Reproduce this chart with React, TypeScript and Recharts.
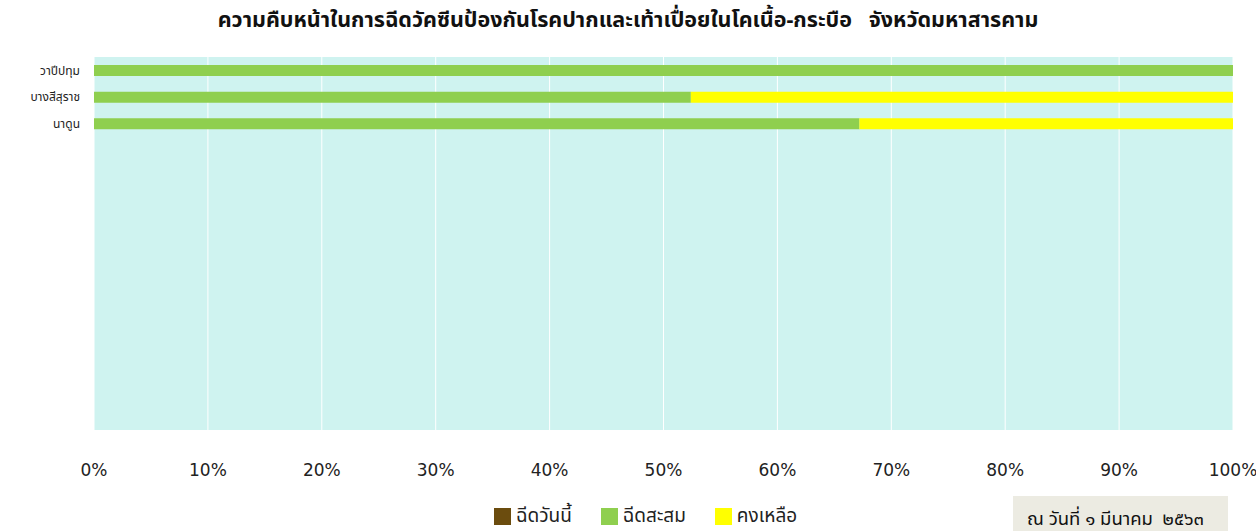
import { BarChart, Bar, XAxis, YAxis, CartesianGrid } from "recharts";

// อำเภอ (13 rows in the sheet, only 3 filled in so far)
const districts = ["วาปีปทุม", "บางสีสุราช", "นาดูน", "", "", "", "", "", "", "", "", "", "", ""];
const todayPct = [0, 0, 0];
const cumulativePct = [100, 52.4, 67.2];
const remainingPct = [0, 47.6, 32.8];
const xTicks = [0, 10, 20, 30, 40, 50, 60, 70, 80, 90, 100];

const data = districts.map((name, i) => ({
  id: `d${i}`,
  name,
  today: todayPct[i] ?? null,
  cumulative: cumulativePct[i] ?? null,
  remaining: remainingPct[i] ?? null,
}));

const COLORS = {
  today: "#6b4c0e",
  cumulative: "#8fcf4f",
  remaining: "#ffff00",
};

const thaiFont = "'Noto Sans', 'Noto Sans Thai', 'DejaVu Sans', sans-serif";

export default function App() {
  return (
    <div
      style={{
        position: "absolute",
        top: 0,
        left: 0,
        width: 1256,
        height: 531,
        background: "#ffffff",
        overflow: "hidden",
        fontFamily: thaiFont,
      }}
    >
      <div
        style={{
          position: "absolute",
          top: 4,
          left: 0,
          width: 1256,
          textAlign: "center",
          fontSize: 21.5,
          fontWeight: "bold",
          color: "#111",
        }}
      >
        ความคืบหน้าในการฉีดวัคซีนป้องกันโรคปากและเท้าเปื่อยในโคเนื้อ-กระบือ&nbsp;&nbsp;&nbsp;จังหวัดมหาสารคาม
      </div>

      <BarChart
        width={1256}
        height={531}
        data={data}
        layout="vertical"
        barSize={11}
        margin={{ top: 57, right: 23, bottom: 71, left: 0 }}
        style={{ position: "absolute", top: 0, left: 0 }}
      >
        <CartesianGrid horizontal={false} stroke="#ffffff" fill="#cff3f0" />
        <XAxis
          type="number"
          domain={[0, 100]}
          ticks={xTicks}
          tickFormatter={(v) => `${v}%`}
          axisLine={false}
          tickLine={false}
          tickMargin={28}
          height={30}
          tick={{ fontSize: 17, fill: "#222", fontFamily: "'DejaVu Sans', sans-serif" }}
        />
        <YAxis
          type="category"
          dataKey="id"
          width={94}
          tickFormatter={(v, i) => districts[i] ?? ""}
          axisLine={false}
          tickLine={false}
          tickMargin={8}
          interval={0}
          tick={{ fontSize: 12, fill: "#222", fontFamily: thaiFont }}
        />
        <Bar dataKey="today" stackId="a" fill={COLORS.today} isAnimationActive={false} />
        <Bar dataKey="cumulative" stackId="a" fill={COLORS.cumulative} isAnimationActive={false} />
        <Bar dataKey="remaining" stackId="a" fill={COLORS.remaining} isAnimationActive={false} />
      </BarChart>

      <div
        style={{
          position: "absolute",
          top: 502,
          left: 494,
          display: "flex",
          alignItems: "center",
          gap: 5,
          fontSize: 19,
          color: "#222",
        }}
      >
        <span style={{ width: 17, height: 17, background: COLORS.today, display: "inline-block" }} />
        <span style={{ marginRight: 24 }}>ฉีดวันนี้</span>
        <span style={{ width: 17, height: 17, background: COLORS.cumulative, display: "inline-block" }} />
        <span style={{ marginRight: 24 }}>ฉีดสะสม</span>
        <span style={{ width: 17, height: 17, background: COLORS.remaining, display: "inline-block" }} />
        <span>คงเหลือ</span>
      </div>

      <div
        style={{
          position: "absolute",
          top: 496,
          left: 1013,
          width: 215,
          height: 40,
          background: "#ecebe2",
          fontSize: 18.5,
          color: "#111",
          paddingTop: 9,
          paddingLeft: 14,
          boxSizing: "border-box",
        }}
      >
        ณ วันที่ ๑ มีนาคม&nbsp;&nbsp;๒๕๖๓
      </div>
    </div>
  );
}
